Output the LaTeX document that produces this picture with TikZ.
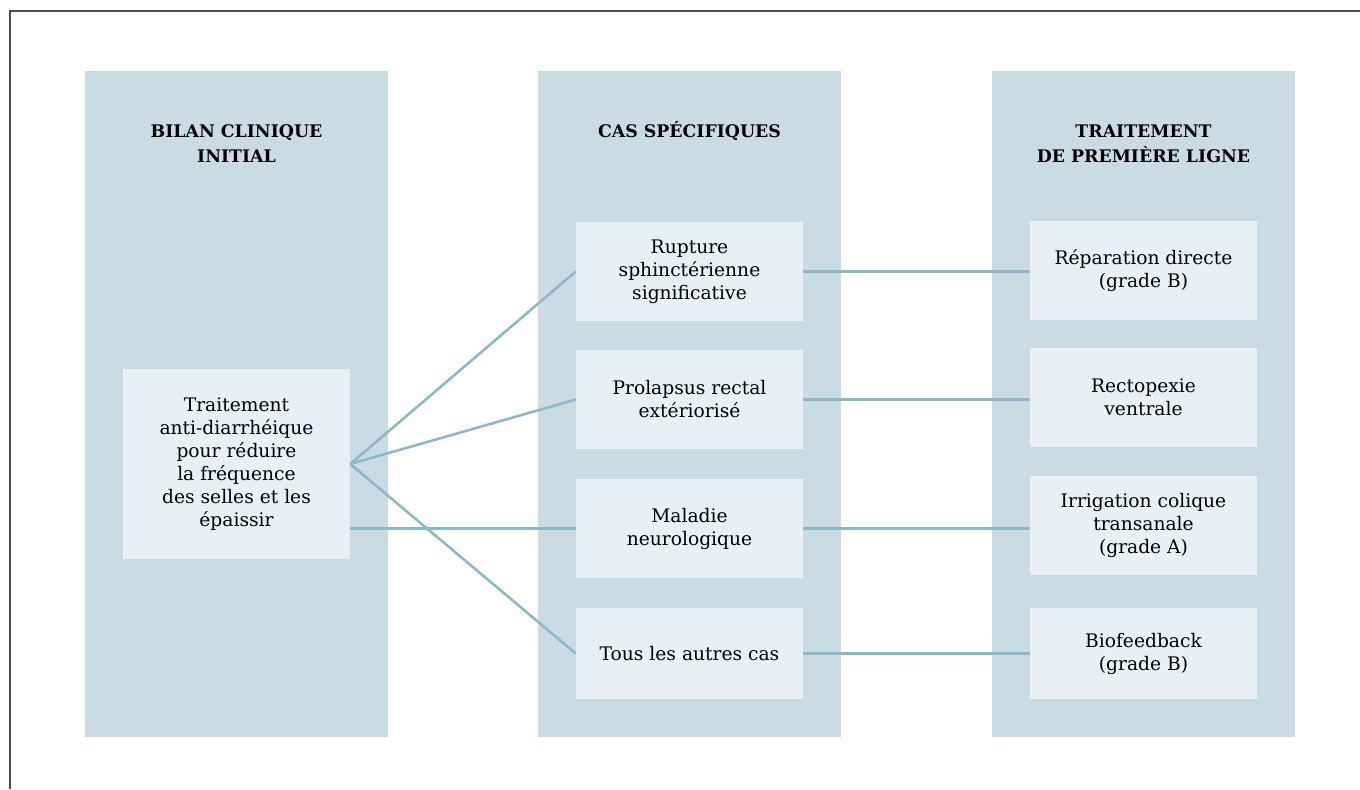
\documentclass[tikz,border=0pt]{standalone}
\usepackage{fontspec}
\setmainfont{DejaVu Serif}
\definecolor{colbg}{HTML}{C9DCE3}
\definecolor{boxbg}{HTML}{E8F0F4}
\definecolor{link}{HTML}{8BB8C8}
\definecolor{frame}{HTML}{4D4D4D}
\begin{document}
\begin{tikzpicture}[x=0.75pt,y=-0.75pt,
  column/.style={fill=colbg,draw=none,inner sep=0pt,minimum width=227.25pt,minimum height=499.5pt},
  head/.style={font=\fontsize{13}{18.75}\selectfont\bfseries,align=center,inner sep=0pt},
  card/.style={fill=boxbg,draw=none,inner sep=0pt,minimum width=170.25pt,minimum height=74.25pt,
    align=center,font=\fontsize{14}{17.25}\selectfont},
  link/.style={draw=link,line width=1.9pt}]
\useasboundingbox (0,0) rectangle (1360,789);
\fill[white] (0,0) rectangle (1360,789);
% frame along the top and left edges
\draw[frame,line width=1.5pt] (9.5,789) -- (9.5,10.5) -- (1360,10.5);

% three column backgrounds
\node[column] (col1) at (236.5,404) {};
\node[column] (col2) at (689.5,404) {};
\node[column] (col3) at (1143.5,404) {};

% column headings
\node[head] (h1) at (236.5,143.5) {BILAN CLINIQUE\\INITIAL};
\node[head] (h2) at (689.5,131) {CAS SPÉCIFIQUES};
\node[head] (h3) at (1143.5,143.5) {TRAITEMENT\\DE PREMIÈRE LIGNE};

% first column
\node[card,minimum height=142.5pt] (init) at (236.5,464)
  {Traitement\\anti-diarrhéique\\pour réduire\\la fréquence\\des selles et les\\épaissir};

% specific cases
\node[card] (c1) at (689.5,271.5) {Rupture\\sphinctérienne\\significative};
\node[card] (c2) at (689.5,399.5) {Prolapsus rectal\\extériorisé};
\node[card] (c3) at (689.5,528.5) {Maladie\\neurologique};
\node[card,minimum height=68.25pt] (c4) at (689.5,653.5) {Tous les autres cas};

% first-line treatments
\node[card] (t1) at (1143.5,270.5) {Réparation directe\\(grade B)};
\node[card] (t2) at (1143.5,397.5) {Rectopexie\\ventrale};
\node[card] (t3) at (1143.5,525.5) {Irrigation colique\\transanale\\(grade A)};
\node[card,minimum height=68.25pt] (t4) at (1143.5,653.5) {Biofeedback\\(grade B)};

% connectors
\draw[link] (init.east) -- (c1.west);
\draw[link] (init.east) -- (c2.west);
\draw[link] (init.east) -- (c4.west);
\draw[link] (init.east |- c3.west) -- (c3.west);
\draw[link] (c1.east) -- (t1.west |- c1.east);
\draw[link] (c2.east) -- (t2.west |- c2.east);
\draw[link] (c3.east) -- (t3.west |- c3.east);
\draw[link] (c4.east) -- (t4.west |- c4.east);
\end{tikzpicture}
\end{document}
